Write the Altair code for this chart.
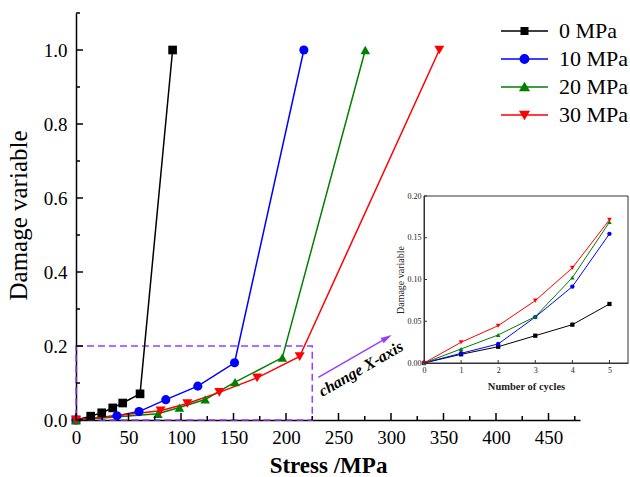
import altair as alt
import pandas as pd

# ---------------- data ----------------
series = ["0 MPa", "10 MPa", "20 MPa", "30 MPa"]
colors = ["#000000", "#0000FF", "#008000", "#FF0000"]

stress_0MPa = [0, 14, 24.5, 35, 44.5, 61, 92]
damage_0MPa = [0, 0.0104, 0.0195, 0.0327, 0.0459, 0.0707, 1.0]
stress_10MPa = [0, 39, 60, 85.5, 116, 151, 217]
damage_10MPa = [0, 0.0116, 0.0228, 0.055, 0.0915, 0.1547, 1.0]
stress_20MPa = [0, 78, 98.5, 123, 151.5, 196.5, 275.5]
damage_20MPa = [0, 0.0168, 0.0336, 0.0555, 0.1023, 0.1687, 1.0]
stress_30MPa = [0, 80.5, 106, 136.5, 172.5, 213, 346]
damage_30MPa = [0, 0.0248, 0.0447, 0.0747, 0.1139, 0.1715, 1.0]
cycles = [0, 1, 2, 3, 4, 5, 6]  # 6 = failure point (not in inset)

x_major = [0, 50, 100, 150, 200, 250, 300, 350, 400, 450]
x_minor = [25, 75, 125, 175, 225, 275, 325, 375, 425, 475]
y_major = [0.0, 0.2, 0.4, 0.6, 0.8, 1.0]
y_minor = [0.1, 0.3, 0.5, 0.7, 0.9, 1.1]
inset_x_ticks = [0, 1, 2, 3, 4, 5]
inset_y_ticks = [0.0, 0.05, 0.10, 0.15, 0.20]

zoom_box_stress = [0, 225]
zoom_box_damage = [0, 0.2]
arrow_stress = [230.8, 296.1]
arrow_damage = [0.115, 0.222]
note_text = ["change X-axis"]
note_stress = [271.4]
note_damage = [0.138]

rows = []
for name, xs, ys in zip(series,
                        [stress_0MPa, stress_10MPa, stress_20MPa, stress_30MPa],
                        [damage_0MPa, damage_10MPa, damage_20MPa, damage_30MPa]):
    for c, x, y in zip(cycles, xs, ys):
        rows.append({"series": name, "stress": x, "damage": y, "cycle": c})
df = pd.DataFrame(rows)

# ---------------- layout / style ----------------
W, H = 504, 407
FONT = "Liberation Serif"
PURPLE = "#9B3CFF"
point_shapes = ["square", "circle", "triangle-up", "triangle-down"]
# legend glyphs: a line through the marker (drawn at symbol size 400 -> 1 unit = 10 px)
legend_paths = [
    "M-2.35,-0.08H2.35V0.08H-2.35Z M-0.4,-0.4H0.4V0.4H-0.4Z",
    "M-2.35,-0.08H2.35V0.08H-2.35Z M-0.49,0A0.49,0.49,0,1,1,0.49,0A0.49,0.49,0,1,1,-0.49,0Z",
    "M-2.35,-0.08H2.35V0.08H-2.35Z M0,-0.52L0.56,0.42L-0.56,0.42Z",
    "M-2.35,-0.08H2.35V0.08H-2.35Z M0,0.52L-0.56,-0.42L0.56,-0.42Z",
]

x_main = alt.X(
    "stress:Q",
    scale=alt.Scale(domain=[0, 480], nice=False, zero=False),
    axis=alt.Axis(
        values=x_major, format="d", ticks=False, tickSize=0, labelPadding=8,
        labelFont=FONT, labelFontSize=19, labelColor="black", labelFlush=False,
        domainColor="black", domainWidth=1.5, grid=False,
        title="Stress /MPa", titleFont=FONT, titleFontSize=23, titleFontWeight="bold",
        titleColor="black", titleBaseline="alphabetic", titleY=52,
    ),
)
y_main = alt.Y(
    "damage:Q",
    scale=alt.Scale(domain=[0, 1.1], nice=False),
    axis=alt.Axis(
        values=y_major, format=".1f", ticks=False, tickSize=0, labelPadding=9,
        labelFont=FONT, labelFontSize=19, labelColor="black", labelFlush=False,
        domainColor="black", domainWidth=1.5, grid=False,
        title="Damage variable", titleFont=FONT, titleFontSize=25, titleFontWeight="normal",
        titleColor="black", titleBaseline="alphabetic", titleX=-50, titleY=202,
        titleAlign="center",
    ),
)
color_main = alt.Color("series:N", scale=alt.Scale(domain=series, range=colors), legend=None)
shape_main = alt.Shape("series:N", scale=alt.Scale(domain=series, range=point_shapes), legend=None)

base = alt.Chart(df)
lines = base.mark_line(strokeWidth=1.5).encode(x=x_main, y=y_main, color=color_main)
points = base.mark_point(filled=True, opacity=1).encode(
    x=x_main, y=y_main, color=color_main, shape=shape_main,
    size=alt.Size("series:O", scale=alt.Scale(domain=series, range=[75, 100, 125, 140]), legend=None),
)

xt_major = alt.Chart(pd.DataFrame({"stress": x_major})).mark_rule(color="black", strokeWidth=1.5).encode(
    x=x_main, y=alt.value(H), y2=alt.value(H - 7))
xt_minor = alt.Chart(pd.DataFrame({"stress": x_minor})).mark_rule(color="black", strokeWidth=1.5).encode(
    x=x_main, y=alt.value(H), y2=alt.value(H - 4))
yt_major = alt.Chart(pd.DataFrame({"damage": y_major})).mark_rule(color="black", strokeWidth=1.5).encode(
    y=y_main, x=alt.value(0), x2=alt.value(7))
yt_minor = alt.Chart(pd.DataFrame({"damage": y_minor})).mark_rule(color="black", strokeWidth=1.5).encode(
    y=y_main, x=alt.value(0), x2=alt.value(4))

box = alt.Chart(pd.DataFrame({
    "stress": [zoom_box_stress[0]], "stress_end": [zoom_box_stress[1]],
    "damage": [zoom_box_damage[0]], "damage_end": [zoom_box_damage[1]],
})).mark_rect(fillOpacity=0, stroke=PURPLE, strokeWidth=1.5, strokeDash=[7, 4]).encode(
    x=x_main, x2="stress_end:Q", y=y_main, y2="damage_end:Q")

arrow = alt.Chart(pd.DataFrame({"stress": arrow_stress, "damage": arrow_damage})).mark_line(
    color=PURPLE, strokeWidth=1.5).encode(x=x_main, y=y_main)
arrow_head = alt.Chart(pd.DataFrame({"stress": arrow_stress[-1:], "damage": arrow_damage[-1:]})).mark_point(
    shape="M0,-1L0.55,1L-0.55,1Z", angle=60, size=121, filled=True, color=PURPLE, opacity=1).encode(
    x=x_main, y=y_main)
note = alt.Chart(pd.DataFrame({"stress": note_stress, "damage": note_damage, "label": note_text})).mark_text(
    angle=330, font=FONT, fontSize=16, fontWeight="bold", fontStyle="italic", color="black",
    align="center", baseline="middle").encode(x=x_main, y=y_main, text="label:N")

main = alt.layer(box, lines, points, xt_major, xt_minor, yt_major, yt_minor, arrow, arrow_head, note)

# ---------------- legend (legend-only layer) ----------------
leg = alt.Legend(
    orient="none", legendX=437.5, legendY=7, title=None, padding=0,
    labelFont=FONT, labelFontSize=22, labelColor="black", labelOffset=23.5,
    symbolSize=400, symbolStrokeWidth=0, rowPadding=6,
)
legend_layer = base.transform_filter("false").mark_point(filled=True, opacity=1).encode(
    color=alt.Color("series:N", scale=alt.Scale(domain=series, range=colors), legend=leg),
    shape=alt.Shape("series:N", scale=alt.Scale(domain=series, range=legend_paths), legend=leg),
)

# ---------------- inset ----------------
IX0, IX1 = 348, 552
IY0, IY1 = 350, 183
x_in = alt.X(
    "cycle:Q",
    scale=alt.Scale(domain=[0, 5.5], range=[IX0, IX1], nice=False, zero=False),
    axis=alt.Axis(
        orient="bottom", offset=-(H - IY0), values=inset_x_ticks, format="d",
        ticks=False, tickSize=0, labelPadding=3, labelFont=FONT, labelFontSize=8,
        labelColor="#222222", labelFlush=False, domainColor="#333333", domainWidth=1, grid=False,
        title="Number of cycles", titleFont=FONT, titleFontSize=10.5, titleFontWeight="bold",
        titleColor="#222222", titleBaseline="alphabetic", titleY=26,
    ),
)
y_in = alt.Y(
    "damage:Q",
    scale=alt.Scale(domain=[0, 0.2], range=[IY0, IY1], nice=False),
    axis=alt.Axis(
        orient="left", offset=-IX0, values=inset_y_ticks, format=".2f",
        ticks=False, tickSize=0, labelPadding=3, labelFont=FONT, labelFontSize=8,
        labelColor="#222222", labelFlush=False, domainColor="#333333", domainWidth=1, grid=False,
        title="Damage variable", titleFont=FONT, titleFontSize=10, titleFontWeight="normal",
        titleColor="#222222", titleBaseline="alphabetic", titleX=-21, titleY=(IY0 + IY1) / 2,
        titleAlign="center",
    ),
)
inset_base = base.transform_filter(alt.datum.cycle <= 5)
in_frame = alt.Chart(pd.DataFrame({"cycle": [0], "cycle_end": [5.5], "damage": [0], "damage_end": [0.2]})).mark_rect(
    fillOpacity=0, stroke="#333333", strokeWidth=1).encode(x=x_in, x2="cycle_end:Q", y=y_in, y2="damage_end:Q")
in_lines = inset_base.mark_line(strokeWidth=1).encode(x=x_in, y=y_in, color=color_main)
in_points = inset_base.mark_point(filled=True, opacity=1).encode(
    x=x_in, y=y_in, color=color_main, shape=shape_main,
    size=alt.Size("series:O", scale=alt.Scale(domain=series, range=[18, 22, 24, 26]), legend=None),
)
in_xt = alt.Chart(pd.DataFrame({"cycle": inset_x_ticks})).mark_rule(color="#333333", strokeWidth=1).encode(
    x=x_in, y=alt.value(IY0), y2=alt.value(IY0 - 3))
in_yt = alt.Chart(pd.DataFrame({"damage": inset_y_ticks})).mark_rule(color="#333333", strokeWidth=1).encode(
    y=y_in, x=alt.value(IX0), x2=alt.value(IX0 + 3))
inset = alt.layer(in_frame, in_lines, in_points, in_xt, in_yt)

chart = alt.layer(main, legend_layer, inset).resolve_scale(
    x="independent", y="independent", color="independent", shape="independent", size="independent"
).properties(
    width=W, height=H,
    padding={"left": 76, "top": 13, "right": 50, "bottom": 57},
    autosize=alt.AutoSizeParams(type="none"),
    background="white",
).configure(font=FONT).configure_axis(labelFont=FONT, titleFont=FONT).configure_legend(
    labelFont=FONT, titleFont=FONT).configure_text(font=FONT).configure_view(strokeWidth=0)

chart.save("out.html", embed_options={"renderer": "svg", "actions": False})
